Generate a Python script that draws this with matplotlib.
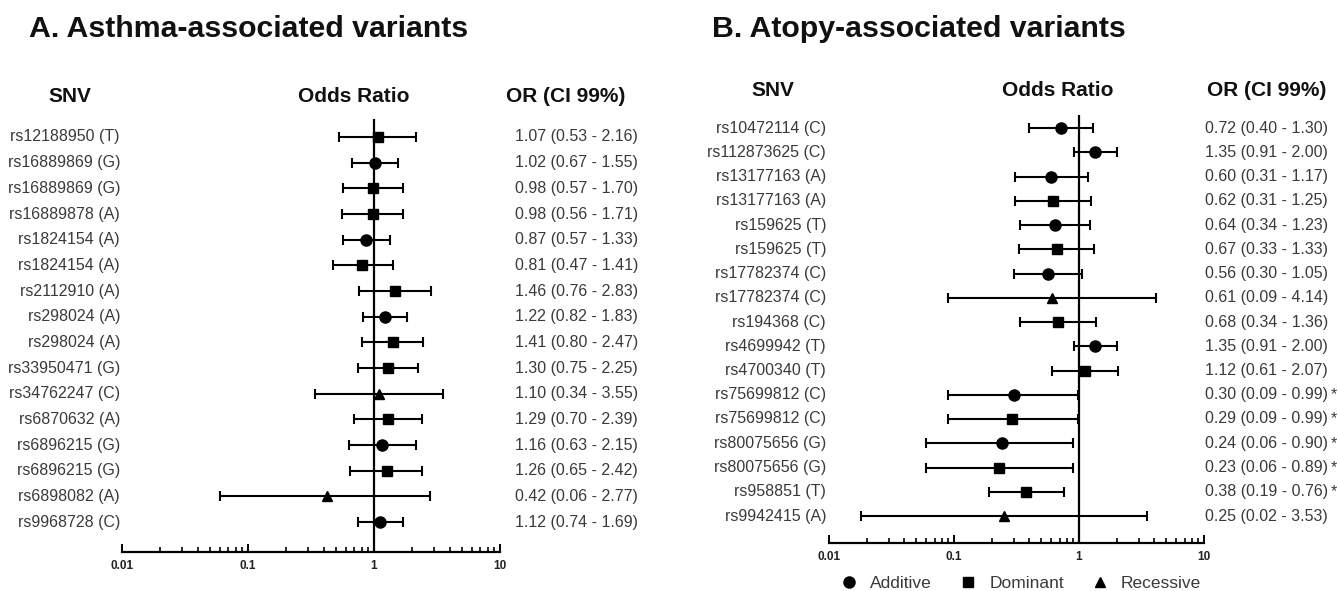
import matplotlib
matplotlib.use("Agg")
import matplotlib.pyplot as plt
import matplotlib.transforms as mtransforms
from matplotlib.lines import Line2D
from matplotlib.ticker import LogLocator, NullFormatter, FixedLocator, FixedFormatter

plt.rcParams['font.family'] = ['Liberation Sans', 'DejaVu Sans']

# ---------------- Data ----------------
snv_a = ["rs12188950 (T)", "rs16889869 (G)", "rs16889869 (G)", "rs16889878 (A)",
         "rs1824154 (A)", "rs1824154 (A)", "rs2112910 (A)", "rs298024 (A)",
         "rs298024 (A)", "rs33950471 (G)", "rs34762247 (C)", "rs6870632 (A)",
         "rs6896215 (G)", "rs6896215 (G)", "rs6898082 (A)", "rs9968728 (C)"]
model_a = ["D", "A", "D", "D", "A", "D", "D", "A", "D", "D", "R", "D", "A", "D", "R", "A"]
or_a = [1.07, 1.02, 0.98, 0.98, 0.87, 0.81, 1.46, 1.22, 1.41, 1.30, 1.10, 1.29, 1.16, 1.26, 0.42, 1.12]
lo_a = [0.53, 0.67, 0.57, 0.56, 0.57, 0.47, 0.76, 0.82, 0.80, 0.75, 0.34, 0.70, 0.63, 0.65, 0.06, 0.74]
hi_a = [2.16, 1.55, 1.70, 1.71, 1.33, 1.41, 2.83, 1.83, 2.47, 2.25, 3.55, 2.39, 2.15, 2.42, 2.77, 1.69]
sig_a = [False] * 16

snv_b = ["rs10472114 (C)", "rs112873625 (C)", "rs13177163 (A)", "rs13177163 (A)",
         "rs159625 (T)", "rs159625 (T)", "rs17782374 (C)", "rs17782374 (C)",
         "rs194368 (C)", "rs4699942 (T)", "rs4700340 (T)", "rs75699812 (C)",
         "rs75699812 (C)", "rs80075656 (G)", "rs80075656 (G)", "rs958851 (T)", "rs9942415 (A)"]
model_b = ["A", "A", "A", "D", "A", "D", "A", "R", "D", "A", "D", "A", "D", "A", "D", "D", "R"]
or_b = [0.72, 1.35, 0.60, 0.62, 0.64, 0.67, 0.56, 0.61, 0.68, 1.35, 1.12, 0.30, 0.29, 0.24, 0.23, 0.38, 0.25]
lo_b = [0.40, 0.91, 0.31, 0.31, 0.34, 0.33, 0.30, 0.09, 0.34, 0.91, 0.61, 0.09, 0.09, 0.06, 0.06, 0.19, 0.018]
hi_b = [1.30, 2.00, 1.17, 1.25, 1.23, 1.33, 1.05, 4.14, 1.36, 2.00, 2.07, 0.99, 0.99, 0.90, 0.89, 0.76, 3.53]
sig_b = [False] * 11 + [True] * 5 + [False]

tick_vals = [0.01, 0.1, 1, 10]
tick_labels = ["0.01", "0.1", "1", "10"]

model_names = {"A": "Additive", "D": "Dominant", "R": "Recessive"}
model_markers = {"A": ("o", 8.0), "D": ("s", 7.5), "R": ("^", 7.5)}

TXT = "#3a3a3a"
W, H = 1338, 591
fig = plt.figure(figsize=(W / 100, H / 100), dpi=100)


def fx(px):
    return px / W


def fy(py):
    return 1 - py / H


def panel(left, right, top, bottom, row0, rowstep, snv, model, orv, lo, hi, sig,
          lab_right, or_left):
    ax = fig.add_axes([fx(left), fy(bottom), fx(right - left), (bottom - top) / H])
    n = len(snv)
    rows = list(range(n))
    ylast = n - 1
    ax.set_ylim(ylast + (bottom - (row0 + rowstep * ylast)) / rowstep,
                -(row0 - top) / rowstep)
    ax.set_xscale("log")
    ax.set_xlim(0.01, 10)
    ax.axvline(1, color="black", lw=1.6, zorder=1)
    for i in rows:
        m, ms = model_markers[model[i]]
        ax.errorbar([orv[i]], [i], xerr=[[orv[i] - lo[i]], [hi[i] - orv[i]]],
                    fmt=m, ms=ms, color="black", mfc="black", mec="black",
                    elinewidth=1.5, capsize=3.8, capthick=1.5, zorder=3)
    for s in ["top", "right", "left"]:
        ax.spines[s].set_visible(False)
    ax.spines["bottom"].set_linewidth(1.6)
    ax.set_yticks([])
    ax.xaxis.set_major_locator(FixedLocator(tick_vals))
    ax.xaxis.set_major_formatter(FixedFormatter(tick_labels))
    ax.xaxis.set_minor_locator(LogLocator(base=10, subs=range(2, 10)))
    ax.xaxis.set_minor_formatter(NullFormatter())
    ax.tick_params(axis="x", which="major", direction="in", length=6, width=1.4,
                   pad=6, labelsize=8.5)
    ax.tick_params(axis="x", which="minor", direction="in", length=3.5, width=1.2)
    for t in ax.get_xticklabels():
        t.set_fontweight("bold")
        t.set_color("#222222")
    ax.patch.set_alpha(0)
    tr = mtransforms.blended_transform_factory(fig.transFigure, ax.transData)
    for i in rows:
        ax.text(fx(lab_right), i, snv[i], transform=tr, ha="right", va="center",
                fontsize=11.5, color=TXT, clip_on=False)
        ax.text(fx(or_left), i, f"{orv[i]:.2f} ({lo[i]:.2f} - {hi[i]:.2f})",
                transform=tr, ha="left", va="center", fontsize=11.5, color=TXT,
                clip_on=False)
        if sig[i]:
            ax.text(fx(1331), i, "*", transform=tr, ha="left", va="center",
                    fontsize=11.5, color=TXT, clip_on=False)
    return ax


axA = panel(122, 500, 119, 552, 137, 25.67, snv_a, model_a, or_a, lo_a, hi_a, sig_a,
            120, 515)
axB = panel(829, 1204, 114.5, 543, 128, 24.25, snv_b, model_b, or_b, lo_b, hi_b, sig_b,
            826, 1205)

# Titles
fig.text(fx(29), fy(29), "A. Asthma-associated variants", fontsize=21.8,
         fontweight="bold", ha="left", va="center", color="#111111")
fig.text(fx(712), fy(29), "B. Atopy-associated variants", fontsize=21.8,
         fontweight="bold", ha="left", va="center", color="#111111")

# Column headers
for x, y, s in [(70, 97, "SNV"), (354, 97, "Odds Ratio"), (566, 97, "OR (CI 99%)"),
                (773, 91, "SNV"), (1058, 91, "Odds Ratio"), (1267, 91, "OR (CI 99%)")]:
    fig.text(fx(x), fy(y), s, fontsize=15, fontweight="bold", ha="center",
             va="center", color="#111111")

# Legend
handles = [Line2D([], [], ls="none", marker=model_markers[k][0],
                  ms=model_markers[k][1], color="black") for k in ["A", "D", "R"]]
labels = [model_names[k] for k in ["A", "D", "R"]]
leg = fig.legend(handles, labels, loc="center", bbox_to_anchor=(fx(1021), fy(583)),
                 ncol=3, frameon=False, fontsize=12.5, handlelength=1.0,
                 handletextpad=0.7, columnspacing=1.6, borderpad=0)
for t in leg.get_texts():
    t.set_color(TXT)

fig.savefig("out.png", dpi=100)
